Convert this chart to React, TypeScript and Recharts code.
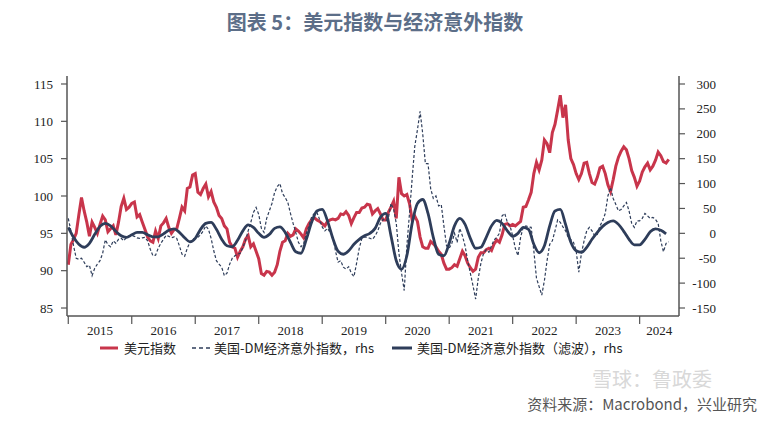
import { ComposedChart, Line, XAxis, YAxis } from "recharts";

// semi-monthly points from Jan 2015, monthly for the filtered series
const START_YEAR = 2015;

const yearTicks = [2015, 2016, 2017, 2018, 2019, 2020, 2021, 2022, 2023, 2024];
const yearLabelPos = [2015.5, 2016.5, 2017.5, 2018.5, 2019.5, 2020.5, 2021.5, 2022.5, 2023.5, 2024.31];
const leftTicks = [85, 90, 95, 100, 105, 110, 115];
const rightTicks = [-150, -100, -50, 0, 50, 100, 150, 200, 250, 300];

// 美元指数 (left axis)
const dxy = [
  90.8, 93.5, 94.2, 95.0, 97.5, 99.8, 98.0, 96.5, 94.6, 96.5, 95.8, 95.0,
  96.2, 97.3, 96.8, 95.2, 95.6, 96.0, 94.8, 96.5, 98.6, 99.7, 98.2, 98.5,
  99.0, 99.2, 97.2, 97.5, 96.5, 95.5, 94.5, 94.0, 93.8, 95.3, 94.3, 96.0,
  96.4, 97.0, 95.8, 95.0, 95.5, 95.6, 97.0, 98.5, 98.0, 101.0, 101.2, 102.8,
  103.0, 100.5, 100.2, 101.0, 101.6, 99.9, 100.6, 99.2, 98.5, 97.4, 97.0, 96.0,
  95.6, 93.8, 93.2, 93.0, 91.8, 92.6, 93.2, 94.2, 94.7, 93.2, 93.6, 92.6,
  91.6, 89.6, 89.4, 89.9, 89.8, 89.4, 89.8, 90.8, 92.6, 93.8, 94.0, 95.0,
  94.6, 94.8, 95.6, 95.3, 94.9, 94.4, 95.6, 96.3, 96.8, 97.1, 96.8, 96.6,
  96.3, 96.0, 96.6, 96.8, 96.9, 96.8, 97.0, 97.6, 97.5, 97.9, 97.4, 96.3,
  97.1, 97.8, 97.8, 98.4, 98.5, 98.9, 98.8, 97.6, 98.0, 98.3, 97.6, 96.8,
  96.8, 97.8, 98.5, 99.3, 97.0, 102.5, 100.3, 100.0, 100.2, 99.0, 96.8, 97.3,
  96.6, 94.5, 93.2, 93.0, 93.0, 93.9, 93.6, 93.2, 92.6, 92.2, 91.0, 90.2,
  90.2, 90.4, 90.8, 90.6, 91.6, 92.6, 92.0, 91.0, 90.4, 89.9, 90.2, 91.8,
  92.4, 92.4, 92.8, 93.0, 92.7, 93.6, 94.1, 93.8, 94.8, 96.2, 96.3, 96.0,
  96.2, 96.0, 96.3, 96.6, 98.5, 98.6, 99.5, 100.5, 103.0, 104.5, 103.5, 104.8,
  107.5, 107.0, 105.8, 108.5, 109.6, 111.5, 113.5, 110.5, 112.2, 107.5, 105.0, 104.2,
  103.0, 102.2, 103.0, 104.4, 104.5, 103.0, 101.8, 101.6, 102.5, 103.8, 104.0, 103.0,
  101.5, 100.6, 102.2, 104.0, 105.2, 106.0, 106.6, 106.2, 105.0, 103.4, 102.5, 101.3,
  102.0, 103.2, 103.9, 104.4, 103.5, 104.0, 104.8, 105.9, 105.4, 104.6, 104.4, 104.9,
];

// 美国-DM经济意外指数 (rhs)
const surprise = [
  30, 5, -25, -50, -52, -50, -58, -67, -64, -85, -70, -62,
  -55, -40, -13, -23, -27, -15, -20, -12, -10, -15, -8, -5,
  -4, -6, -9, -10, -9, -8, -15, -32, -45, -44, -30, -20,
  -12, -4, -6, -9, -7, -10, -25, -42, -46, -30, -18, -12,
  -10, -8, -3, 5, 15, 8, -10, -35, -55, -62, -68, -85,
  -80, -62, -50, -45, -42, -40, -28, -15, 5, 22, 42, 52,
  38, 10, 2, 30, 45, 60, 82, 94, 100, 80, 72, 62,
  40, 20, 2, -18, -27, -20, 0, 15, 33, 40, 42, 28,
  13, 5, 10, 2, -5, -35, -58, -55, -68, -72, -67, -80,
  -87, -60, -30, -10, -7, -8, -10, -12, -5, 5, 20, 28,
  25, 30, 60, 48, 20, -40, -80, -115, -25, 40, 110, 175,
  208, 245, 200, 140, 140, 90, 70, 75, 55, 58, 15, -25,
  -30, -20, 0, -18, 10, -5, -25, -55, -80, -105, -132, -90,
  -60, -40, -33, -38, -25, -13, -8, 0, 35, 40, 22, 15,
  -5, -30, -45, -8, 12, 15, 13, 12, -35, -90, -107, -124,
  -95, -55, -22, -15, 5, 27, 22, 13, 5, -8, -13, -18,
  -35, -78, -40, -15, 5, 12, 5, -5, -2, 15, 25, 40,
  75, 92, 70, 58, 45, 48, 55, 62, 45, 20, 12, 25,
  25, 30, 40, 35, 30, 32, 28, 20, -15, -37, -20, -17,
];

// 美国-DM经济意外指数（滤波） (rhs, monthly)
const surpriseFiltered = [
  12, -8, -22, -28, -20, -2, 14, 20, 15, 4, -5, -8,
  -3, 2, 2, -3, -7, -7, -1, 6, 9, 2, -9, -17,
  -10, 8, 20, 22, 8, -12, -25, -27, -14, 5, 17, 12,
  0, -8, -2, 10, 13, 2, -18, -37, -40, -12, 22, 45,
  48, 25, -10, -36, -42, -35, -22, -12, -5, 0, 10, 32,
  40, -5, -55, -72, -45, 20, 60, 68, 40, -8, -42, -45,
  -20, 15, 30, 18, -10, -30, -28, -8, 15, 26, 20, 5,
  -6, 0, 12, 8, -22, -39, -25, 15, 45, 48, 18, -18,
  -35, -38, -28, -12, 2, 14, 22, 25, 18, 4, -12, -23,
  -23, -12, 3, 9, 6, -1,
];

const dxyData = dxy.map((v, i) => ({ t: START_YEAR + i / 24, v }));
const surpriseData = surprise.map((v, i) => ({ t: START_YEAR + i / 24, v }));
const filteredData = surpriseFiltered.map((v, i) => ({ t: START_YEAR + i / 12, v }));

const RED = "#C8354B";
const NAVY = "#2E3D5A";
const AXIS = "#555";
const SERIF = "'Liberation Serif', 'Times New Roman', serif";
const CJK = "'Noto Sans CJK SC', 'Noto Sans', sans-serif";

const W = 768;
const H = 421;
const MARGIN = { top: 76, right: 29, bottom: 75, left: 7 };
const Y_AXIS_W = 60;
const X_DOMAIN: [number, number] = [2014.98, 2024.62];
const PX_PER_YEAR = (W - MARGIN.left - MARGIN.right - 2 * Y_AXIS_W) / (X_DOMAIN[1] - X_DOMAIN[0]);

// year labels sit between the year ticks
function YearTick({ x, y, payload, index }: any) {
  const shift = (yearLabelPos[index] - payload.value) * PX_PER_YEAR;
  return (
    <text x={x + shift} y={y} dy="0.71em" textAnchor="middle" fontSize={13} fontFamily={SERIF} fill="#222">
      {payload.value}
    </text>
  );
}

function RightTick({ x, y, payload }: any) {
  return (
    <text x={x + 29} y={y} dy="0.35em" textAnchor="end" fontSize={13} fontFamily={SERIF} fill="#222">
      {payload.value}
    </text>
  );
}

export default function App() {
  return (
    <div style={{ position: "absolute", left: 0, top: 0, width: W, height: H, background: "#fff" }}>
      <ComposedChart width={W} height={H} margin={MARGIN}>
        <XAxis
          dataKey="t"
          type="number"
          domain={X_DOMAIN}
          allowDataOverflow
          ticks={yearTicks}
          interval={0}
          tick={<YearTick />}
          tickSize={8}
          tickMargin={2}
          height={30}
          axisLine={{ stroke: AXIS, strokeWidth: 1.5 }}
          tickLine={{ stroke: AXIS, strokeWidth: 1.2 }}
        />
        <YAxis
          yAxisId="left"
          orientation="left"
          width={Y_AXIS_W}
          domain={[83.93, 116.07]}
          allowDataOverflow
          ticks={leftTicks}
          interval={0}
          tickSize={6}
          tickMargin={8}
          tick={{ fill: "#222", fontSize: 13, fontFamily: SERIF }}
          axisLine={{ stroke: AXIS, strokeWidth: 1.5 }}
          tickLine={{ stroke: AXIS, strokeWidth: 1.2 }}
        />
        <YAxis
          yAxisId="right"
          orientation="right"
          width={Y_AXIS_W}
          domain={[-166.07, 316.07]}
          allowDataOverflow
          ticks={rightTicks}
          interval={0}
          tickSize={6}
          tickMargin={2}
          tick={<RightTick />}
          axisLine={{ stroke: AXIS, strokeWidth: 1.5 }}
          tickLine={{ stroke: AXIS, strokeWidth: 1.2 }}
        />
        <Line
          data={dxyData}
          dataKey="v"
          yAxisId="left"
          type="linear"
          stroke={RED}
          strokeWidth={3}
          dot={false}
          isAnimationActive={false}
        />
        <Line
          data={surpriseData}
          dataKey="v"
          yAxisId="right"
          type="linear"
          stroke={NAVY}
          strokeWidth={1.2}
          strokeDasharray="3 2"
          dot={false}
          isAnimationActive={false}
        />
        <Line
          data={filteredData}
          dataKey="v"
          yAxisId="right"
          type="monotone"
          stroke={NAVY}
          strokeWidth={2.8}
          dot={false}
          isAnimationActive={false}
        />
      </ComposedChart>

      <svg width={W} height={H} style={{ position: "absolute", left: 0, top: 0, pointerEvents: "none" }}>
        <text x={375} y={30} textAnchor="middle" fontSize={20} fontWeight={700} fontFamily={CJK} fill="#5C6E88">
          图表 5：美元指数与经济意外指数
        </text>

        <line x1={100} x2={118} y1={348} y2={348} stroke={RED} strokeWidth={3} />
        <text x={124} y={352.5} fontSize={13} fontFamily={CJK} fill="#222">美元指数</text>
        <line x1={192} x2={210} y1={348} y2={348} stroke={NAVY} strokeWidth={1.5} strokeDasharray="4 3" />
        <text x={214} y={352.5} fontSize={13} fontFamily={CJK} fill="#222">美国-DM经济意外指数，rhs</text>
        <line x1={392} x2={412} y1={348} y2={348} stroke={NAVY} strokeWidth={3} />
        <text x={417} y={352.5} fontSize={13} fontFamily={CJK} fill="#222">美国-DM经济意外指数（滤波），rhs</text>

        <text x={592} y={387} fontSize={20} fontFamily={CJK} fill="#d8d8d8">雪球：鲁政委</text>
        <text x={757} y={410} textAnchor="end" fontSize={15} fontFamily={CJK} fill="#555">
          资料来源：Macrobond，兴业研究
        </text>
      </svg>
    </div>
  );
}
